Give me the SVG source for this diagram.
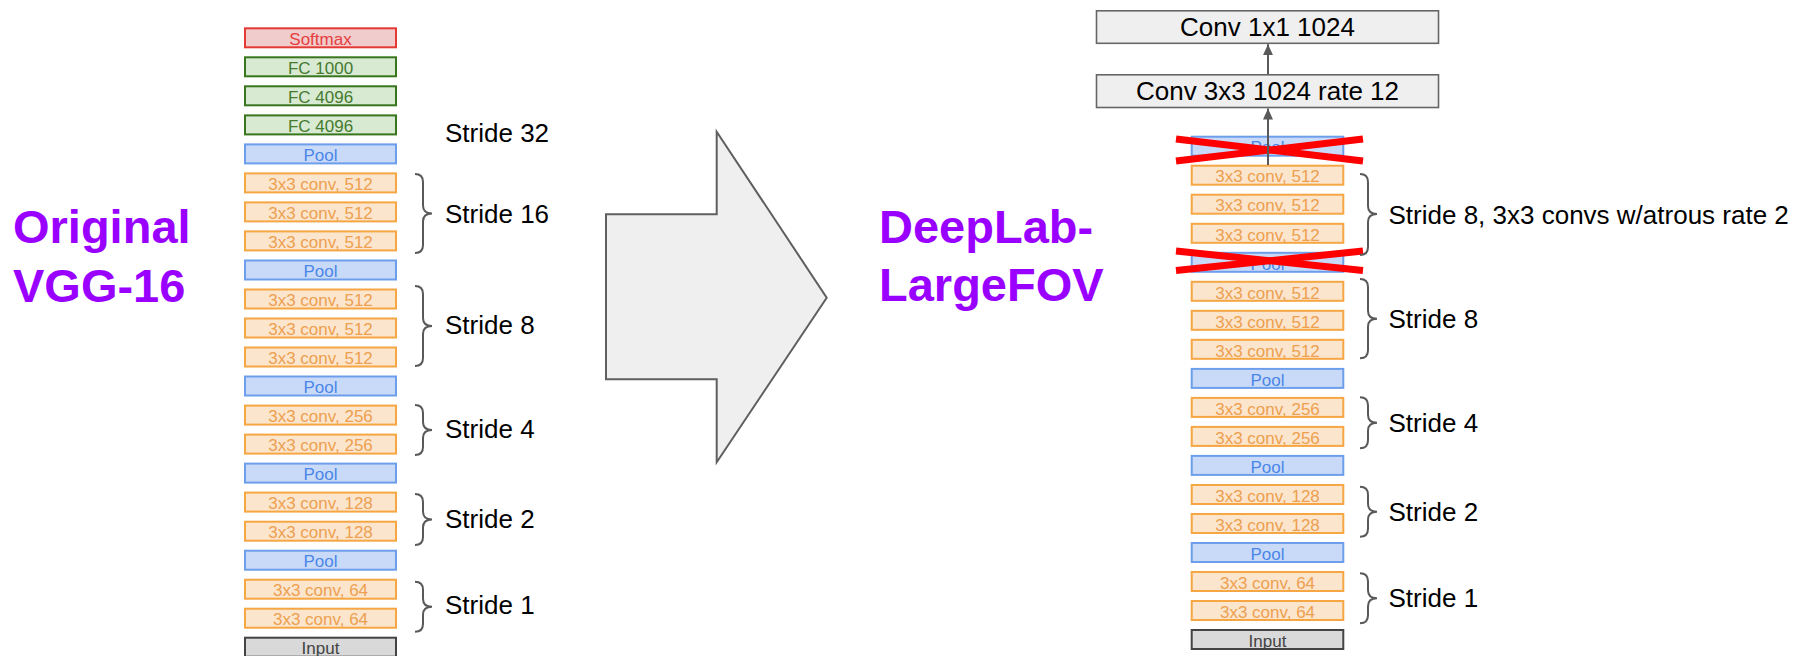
<svg xmlns="http://www.w3.org/2000/svg" width="1798" height="656" viewBox="0 0 1798 656">
  <style>
    .lyr { stroke-width: 2; }
    .lbl { font-family: "Liberation Sans", Arial, sans-serif; font-size: 17px; text-anchor: middle; }
    .conv rect { fill: #fce5cd; stroke: #f6a642; }
    .conv text { fill: #eda04f; }
    .pool rect { fill: #c9daf8; stroke: #6d9eeb; }
    .pool text { fill: #4a86e8; }
    .fc rect { fill: #d9ead3; stroke: #38761d; }
    .fc text { fill: #457a2f; }
    .soft rect { fill: #f0cccc; stroke: #e53935; }
    .soft text { fill: #e53e3e; }
    .inp rect { fill: #d9d9d9; stroke: #434343; }
    .inp text { fill: #434343; }
    .big rect { fill: #efefef; stroke: #666666; stroke-width: 1.6; }
    .big text { font-family: "Liberation Sans", Arial, sans-serif; font-size: 26px; fill: #000; text-anchor: middle; }
    .brace { fill: none; stroke: #595959; stroke-width: 2; }
    .stride { font-family: "Liberation Sans", Arial, sans-serif; font-size: 26px; fill: #000; }
    .title { font-family: "Liberation Sans", Arial, sans-serif; font-size: 47px; font-weight: bold; fill: #9900ff; }
    .cross { stroke: #ff0000; stroke-width: 7; }
    .conn { stroke: #595959; stroke-width: 2; fill: none; }
  </style>
  <defs>
    <marker id="arrowhead" markerUnits="userSpaceOnUse" markerWidth="12" markerHeight="10" refX="11" refY="5" orient="auto">
      <path d="M0,0 L11,5 L0,10 Z" fill="#595959"/>
    </marker>
  </defs>

  <rect width="1798" height="656" fill="#ffffff"/>

  <!-- Titles -->
  <g id="title-vgg">
    <text class="title" x="13" y="243.3">Original</text>
    <text class="title" x="13" y="301.7">VGG-16</text>
  </g>
  <g id="title-deeplab">
    <text class="title" x="879" y="243.3">DeepLab-</text>
    <text class="title" x="879" y="301">LargeFOV</text>
  </g>

  <!-- Transformation arrow -->
  <g id="big-arrow">
    <polygon points="606,214.3 716.7,214.3 716.7,131.7 826.7,297.7 716.7,462.3 716.7,379.3 606,379.3" fill="#efefef" stroke="#5f5f5f" stroke-width="2"/>
  </g>

  <!-- VGG-16 layer stack (rect y = 28.3 + 29.02*i) -->
  <g id="vgg-softmax" class="soft"><rect class="lyr" x="245" y="28.3" width="151" height="19"/><text class="lbl" x="320.5" y="45">Softmax</text></g>
  <g id="vgg-fc1000" class="fc"><rect class="lyr" x="245" y="57.3" width="151" height="19"/><text class="lbl" x="320.5" y="74">FC 1000</text></g>
  <g id="vgg-fc4096b" class="fc"><rect class="lyr" x="245" y="86.3" width="151" height="19"/><text class="lbl" x="320.5" y="103">FC 4096</text></g>
  <g id="vgg-fc4096a" class="fc"><rect class="lyr" x="245" y="115.4" width="151" height="19"/><text class="lbl" x="320.5" y="132.1">FC 4096</text></g>
  <g id="vgg-pool5" class="pool"><rect class="lyr" x="245" y="144.4" width="151" height="19"/><text class="lbl" x="320.5" y="161.1">Pool</text></g>
  <g id="vgg-conv5-3" class="conv"><rect class="lyr" x="245" y="173.4" width="151" height="19"/><text class="lbl" x="320.5" y="190.1">3x3 conv, 512</text></g>
  <g id="vgg-conv5-2" class="conv"><rect class="lyr" x="245" y="202.4" width="151" height="19"/><text class="lbl" x="320.5" y="219.1">3x3 conv, 512</text></g>
  <g id="vgg-conv5-1" class="conv"><rect class="lyr" x="245" y="231.4" width="151" height="19"/><text class="lbl" x="320.5" y="248.1">3x3 conv, 512</text></g>
  <g id="vgg-pool4" class="pool"><rect class="lyr" x="245" y="260.5" width="151" height="19"/><text class="lbl" x="320.5" y="277.2">Pool</text></g>
  <g id="vgg-conv4-3" class="conv"><rect class="lyr" x="245" y="289.5" width="151" height="19"/><text class="lbl" x="320.5" y="306.2">3x3 conv, 512</text></g>
  <g id="vgg-conv4-2" class="conv"><rect class="lyr" x="245" y="318.5" width="151" height="19"/><text class="lbl" x="320.5" y="335.2">3x3 conv, 512</text></g>
  <g id="vgg-conv4-1" class="conv"><rect class="lyr" x="245" y="347.5" width="151" height="19"/><text class="lbl" x="320.5" y="364.2">3x3 conv, 512</text></g>
  <g id="vgg-pool3" class="pool"><rect class="lyr" x="245" y="376.5" width="151" height="19"/><text class="lbl" x="320.5" y="393.2">Pool</text></g>
  <g id="vgg-conv3-2" class="conv"><rect class="lyr" x="245" y="405.6" width="151" height="19"/><text class="lbl" x="320.5" y="422.3">3x3 conv, 256</text></g>
  <g id="vgg-conv3-1" class="conv"><rect class="lyr" x="245" y="434.6" width="151" height="19"/><text class="lbl" x="320.5" y="451.3">3x3 conv, 256</text></g>
  <g id="vgg-pool2" class="pool"><rect class="lyr" x="245" y="463.6" width="151" height="19"/><text class="lbl" x="320.5" y="480.3">Pool</text></g>
  <g id="vgg-conv2-2" class="conv"><rect class="lyr" x="245" y="492.6" width="151" height="19"/><text class="lbl" x="320.5" y="509.3">3x3 conv, 128</text></g>
  <g id="vgg-conv2-1" class="conv"><rect class="lyr" x="245" y="521.7" width="151" height="19"/><text class="lbl" x="320.5" y="538.4">3x3 conv, 128</text></g>
  <g id="vgg-pool1" class="pool"><rect class="lyr" x="245" y="550.7" width="151" height="19"/><text class="lbl" x="320.5" y="567.4">Pool</text></g>
  <g id="vgg-conv1-2" class="conv"><rect class="lyr" x="245" y="579.7" width="151" height="19"/><text class="lbl" x="320.5" y="596.4">3x3 conv, 64</text></g>
  <g id="vgg-conv1-1" class="conv"><rect class="lyr" x="245" y="608.7" width="151" height="19"/><text class="lbl" x="320.5" y="625.4">3x3 conv, 64</text></g>
  <g id="vgg-input" class="inp"><rect class="lyr" x="245" y="637.7" width="151" height="19"/><text class="lbl" x="320.5" y="654.4">Input</text></g>

  <!-- VGG-16 stride annotations -->
  <g id="vgg-strides">
    <text class="stride" x="445" y="141.7">Stride 32</text>
    <path class="brace" d="M415,174 Q423,174 423,182 L423,205.5 Q423,213.5 432,213.5 Q423,213.5 423,221.5 L423,245 Q423,253 415,253"/>
    <text class="stride" x="445" y="222.7">Stride 16</text>
    <path class="brace" d="M415,286 Q423,286 423,294 L423,318 Q423,326 432,326 Q423,326 423,334 L423,358 Q423,366 415,366"/>
    <text class="stride" x="445" y="334">Stride 8</text>
    <path class="brace" d="M415,405 Q423,405 423,413 L423,422 Q423,430 432,430 Q423,430 423,438 L423,447 Q423,455 415,455"/>
    <text class="stride" x="445" y="438">Stride 4</text>
    <path class="brace" d="M415,494 Q423,494 423,502 L423,511.5 Q423,519.5 432,519.5 Q423,519.5 423,527.5 L423,537 Q423,545 415,545"/>
    <text class="stride" x="445" y="528">Stride 2</text>
    <path class="brace" d="M415,581.7 Q423,581.7 423,589.7 L423,598.7 Q423,606.7 432,606.7 Q423,606.7 423,614.7 L423,623.7 Q423,631.7 415,631.7"/>
    <text class="stride" x="445" y="614">Stride 1</text>
  </g>

  <!-- DeepLab-LargeFOV head -->
  <g id="dl-fc8" class="big"><rect x="1096.5" y="10.8" width="342" height="32.5"/><text x="1267.5" y="36">Conv 1x1 1024</text></g>
  <g id="dl-fc7" class="big"><rect x="1096.5" y="74.8" width="342" height="32.7"/><text x="1267.5" y="100">Conv 3x3 1024 rate 12</text></g>

  <!-- DeepLab-LargeFOV layer stack (rect y = 136.7 + 29.02*i) -->
  <g id="dl-pool5" class="pool"><rect class="lyr" x="1191.7" y="136.7" width="151.6" height="19"/><text class="lbl" x="1267.5" y="153.4">Pool</text></g>
  <g id="dl-conv5-3" class="conv"><rect class="lyr" x="1191.7" y="165.7" width="151.6" height="19"/><text class="lbl" x="1267.5" y="182.4">3x3 conv, 512</text></g>
  <g id="dl-conv5-2" class="conv"><rect class="lyr" x="1191.7" y="194.7" width="151.6" height="19"/><text class="lbl" x="1267.5" y="211.4">3x3 conv, 512</text></g>
  <g id="dl-conv5-1" class="conv"><rect class="lyr" x="1191.7" y="223.8" width="151.6" height="19"/><text class="lbl" x="1267.5" y="240.5">3x3 conv, 512</text></g>
  <g id="dl-pool4" class="pool"><rect class="lyr" x="1191.7" y="252.8" width="151.6" height="19"/><text class="lbl" x="1267.5" y="269.5">Pool</text></g>
  <g id="dl-conv4-3" class="conv"><rect class="lyr" x="1191.7" y="281.8" width="151.6" height="19"/><text class="lbl" x="1267.5" y="298.5">3x3 conv, 512</text></g>
  <g id="dl-conv4-2" class="conv"><rect class="lyr" x="1191.7" y="310.8" width="151.6" height="19"/><text class="lbl" x="1267.5" y="327.5">3x3 conv, 512</text></g>
  <g id="dl-conv4-1" class="conv"><rect class="lyr" x="1191.7" y="339.8" width="151.6" height="19"/><text class="lbl" x="1267.5" y="356.5">3x3 conv, 512</text></g>
  <g id="dl-pool3" class="pool"><rect class="lyr" x="1191.7" y="368.9" width="151.6" height="19"/><text class="lbl" x="1267.5" y="385.6">Pool</text></g>
  <g id="dl-conv3-2" class="conv"><rect class="lyr" x="1191.7" y="397.9" width="151.6" height="19"/><text class="lbl" x="1267.5" y="414.6">3x3 conv, 256</text></g>
  <g id="dl-conv3-1" class="conv"><rect class="lyr" x="1191.7" y="426.9" width="151.6" height="19"/><text class="lbl" x="1267.5" y="443.6">3x3 conv, 256</text></g>
  <g id="dl-pool2" class="pool"><rect class="lyr" x="1191.7" y="455.9" width="151.6" height="19"/><text class="lbl" x="1267.5" y="472.6">Pool</text></g>
  <g id="dl-conv2-2" class="conv"><rect class="lyr" x="1191.7" y="485" width="151.6" height="19"/><text class="lbl" x="1267.5" y="501.7">3x3 conv, 128</text></g>
  <g id="dl-conv2-1" class="conv"><rect class="lyr" x="1191.7" y="514" width="151.6" height="19"/><text class="lbl" x="1267.5" y="530.7">3x3 conv, 128</text></g>
  <g id="dl-pool1" class="pool"><rect class="lyr" x="1191.7" y="543" width="151.6" height="19"/><text class="lbl" x="1267.5" y="559.7">Pool</text></g>
  <g id="dl-conv1-2" class="conv"><rect class="lyr" x="1191.7" y="572" width="151.6" height="19"/><text class="lbl" x="1267.5" y="588.7">3x3 conv, 64</text></g>
  <g id="dl-conv1-1" class="conv"><rect class="lyr" x="1191.7" y="601" width="151.6" height="19"/><text class="lbl" x="1267.5" y="617.7">3x3 conv, 64</text></g>
  <g id="dl-input" class="inp"><rect class="lyr" x="1191.7" y="630" width="151.6" height="19"/><text class="lbl" x="1267.5" y="646.7">Input</text></g>

  <!-- Removed pooling layers -->
  <g id="dl-removed">
    <line class="cross" x1="1176" y1="139" x2="1363" y2="161"/>
    <line class="cross" x1="1176" y1="161" x2="1363" y2="139"/>
    <line class="cross" x1="1176" y1="251" x2="1363" y2="270.5"/>
    <line class="cross" x1="1176" y1="270.5" x2="1363" y2="251"/>
  </g>

  <!-- DeepLab-LargeFOV stride annotations -->
  <g id="dl-strides">
    <path class="brace" d="M1360,174 Q1368,174 1368,182 L1368,206 Q1368,214 1377,214 Q1368,214 1368,222 L1368,247 Q1368,255 1360,255"/>
    <text class="stride" x="1388.5" y="224">Stride 8, 3x3 convs w/atrous rate 2</text>
    <path class="brace" d="M1360,279 Q1368,279 1368,287 L1368,310.7 Q1368,318.7 1377,318.7 Q1368,318.7 1368,326.7 L1368,350.3 Q1368,358.3 1360,358.3"/>
    <text class="stride" x="1388.5" y="327.7">Stride 8</text>
    <path class="brace" d="M1360,397.3 Q1368,397.3 1368,405.3 L1368,414.8 Q1368,422.8 1377,422.8 Q1368,422.8 1368,430.8 L1368,440.3 Q1368,448.3 1360,448.3"/>
    <text class="stride" x="1388.5" y="431.7">Stride 4</text>
    <path class="brace" d="M1360,486.7 Q1368,486.7 1368,494.7 L1368,503.7 Q1368,511.7 1377,511.7 Q1368,511.7 1368,519.7 L1368,528.7 Q1368,536.7 1360,536.7"/>
    <text class="stride" x="1388.5" y="520.7">Stride 2</text>
    <path class="brace" d="M1360,573.3 Q1368,573.3 1368,581.3 L1368,590.3 Q1368,598.3 1377,598.3 Q1368,598.3 1368,606.3 L1368,615.3 Q1368,623.3 1360,623.3"/>
    <text class="stride" x="1388.5" y="607.3">Stride 1</text>
  </g>

  <!-- Connectors -->
  <g id="connectors">
    <line class="conn" x1="1268" y1="165" x2="1268" y2="108.5" marker-end="url(#arrowhead)"/>
    <line class="conn" x1="1268" y1="74" x2="1268" y2="44.2" marker-end="url(#arrowhead)"/>
  </g>
</svg>
